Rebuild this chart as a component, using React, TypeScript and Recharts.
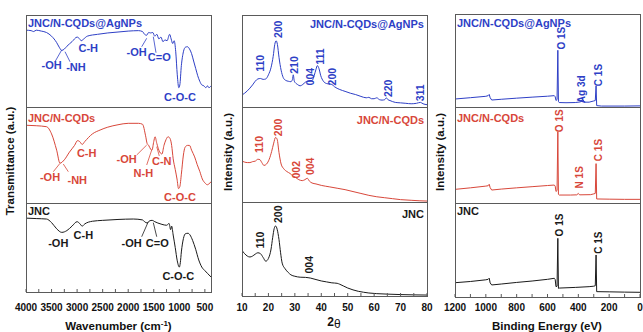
import React from 'react';
import { LineChart, Line, XAxis, YAxis, ReferenceDot, ReferenceLine } from 'recharts';

type P = [number, number];

// ---------- FTIR (wavenumber, transmittance) ----------
const ftirAg: P[] = [[4000,83.5],[3900,83],[3850,82],[3800,83.5],[3700,82.5],[3600,81],[3500,77],[3400,70],[3350,65],[3300,61.5],[3250,63],[3200,66],[3100,71],[3000,76],[2950,74],[2920,72],[2880,73.5],[2800,77],[2600,79],[2400,80.5],[2200,81.5],[2000,82.5],[1800,83],[1720,82],[1680,79],[1640,78],[1600,81],[1560,80.5],[1520,81],[1480,77],[1440,79],[1400,74],[1360,76],[1320,71],[1280,73],[1240,72],[1190,79],[1160,74],[1130,69],[1100,72],[1070,60],[1040,35],[1010,21],[990,24],[960,45],[920,60],[880,65],[840,65.5],[800,63],[760,58],[720,50],[680,42],[640,34],[600,28],[560,24],[520,23],[480,21],[450,23],[420,21],[380,23]];
const ftirCqd: P[] = [[4000,81],[3800,80.5],[3600,79.5],[3500,72],[3400,55],[3335,41.5],[3250,45],[3150,53],[3050,60],[2990,65],[2950,64],[2900,61],[2850,64],[2700,72],[2550,76],[2400,79],[2200,81.5],[2000,83],[1800,83],[1720,82],[1660,70],[1630,62],[1600,60],[1560,56],[1535,55],[1500,64],[1475,69],[1440,62],[1400,55],[1340,51],[1300,60],[1260,66],[1220,69],[1180,67],[1150,60],[1120,46],[1080,35],[1045,25],[1015,15],[990,17],[960,30],[920,50],[888,58],[840,60],[800,60],[760,55],[700,48],[650,40],[600,33],[550,25],[500,21],[450,19],[420,20],[380,22]];
const ftirJnc: P[] = [[4000,83],[3800,82.5],[3600,82],[3500,78],[3400,71],[3300,67],[3200,69],[3100,74],[3000,79],[2950,77],[2900,74],[2850,76.5],[2700,79.5],[2500,80.5],[2200,81.5],[1900,82],[1720,81],[1680,79],[1630,77.5],[1580,80],[1530,80.5],[1480,79],[1420,77.5],[1340,76],[1250,75],[1200,77],[1170,70],[1150,74],[1120,64],[1080,50],[1040,35],[1000,28],[980,33],[960,45],[920,60],[880,65.5],[830,66],[790,64],[740,58],[680,48],[620,36],[560,28],[500,24],[450,21],[400,18],[380,17]];

// ---------- XRD (2theta, intensity) ----------
const xrdAg: P[] = [[10,13],[11,15],[12,17.5],[13,20.5],[14,24],[15,28],[16,30.5],[17,31],[18,30],[19,30.5],[20,35],[21,43],[21.8,55],[22.4,68],[22.9,72],[23.4,68],[24,54],[24.8,40],[25.6,32],[26.5,29],[27.5,28],[28.5,27.5],[29.1,30],[29.4,35],[29.8,28],[31,24.5],[32,23],[33,24.5],[34,27],[34.8,28],[35.7,28],[36.6,29],[37.3,34],[38,41],[38.5,45],[39.1,42],[39.8,34],[40.8,28],[42,25.5],[43,25],[44,24.5],[45,22],[47,19],[49,17],[51,15],[53,13.5],[55,11.5],[57,10],[58,10.5],[59,9],[60,9],[61,10],[62,8],[63,7.5],[64,8],[64.6,10],[65.2,8],[66,7],[68,5],[70,4.5],[72,4],[74,3.5],[76,4],[77.5,5],[78.5,3.5],[80,2.5]];
const xrdCqd: P[] = [[10,43],[11,42],[12,41.5],[13,41.5],[14,42.5],[15,43],[16,45],[16.8,44.5],[17.5,41.5],[18.3,38.5],[19.3,40],[20.3,45],[21.2,53],[22,62],[22.7,68],[23.3,66],[24,52],[24.8,40],[25.8,35],[27,32],[28.2,30],[29.2,27.5],[30.2,26],[31.5,23.5],[32.8,22.5],[33.8,23.5],[34.7,25],[35.5,22],[36.5,20],[38,19],[40,17.5],[43,16],[46,14.5],[49,13],[52,11],[55,9],[58,7],[61,5.5],[64,4.5],[67,3.5],[70,2.5],[74,1.8],[77,1.3],[80,1]];
const xrdJnc: P[] = [[10,48.5],[11,45],[12,42.5],[13,41.5],[14,42.5],[15,44.5],[16,46],[17,45],[18,41],[19,37],[20,40],[21,50],[21.6,62],[22.2,72],[22.7,74.5],[23.3,71],[24,60],[24.6,46],[25.2,35],[26.3,29],[27.5,25],[28.5,22.5],[30,21],[32,20],[34,19.8],[36,19],[38,17.5],[40,16],[42,15],[44,14],[46,13.5],[47,12.5],[48.5,10.5],[50,8.5],[52,6.5],[54,5],[56,4],[58,3.2],[61,2.5],[65,2],[70,1.5],[75,1.2],[80,1]];

// ---------- XPS (binding energy, intensity) ----------
const xpsAg: P[] = [[1200,8.6],[1100,10],[1000,11.5],[985,12.2],[978,13.5],[972,10],[962,7.5],[900,8.3],[800,9.5],[700,10.6],[600,11.6],[556,12.2],[550,11],[545,7],[538,8],[533,61],[529,6],[524,4.8],[480,4.6],[420,4.8],[385,5.5],[375,8],[368,7.5],[360,5.2],[330,5.2],[300,6.5],[290,7],[285,22.6],[281,1.5],[250,1],[100,1],[0,1.2]];
const xpsCqd: P[] = [[1200,14.2],[1100,15.8],[1000,17.6],[985,18],[978,19.5],[972,16],[962,13.5],[900,14.5],[800,15.8],[700,17],[600,18.2],[556,18.7],[550,17.5],[545,12],[538,13],[533,74],[529,9],[524,8.3],[450,8.3],[410,8.5],[400,10],[392,8.5],[320,8.7],[300,9.5],[290,10],[285,41],[281,4.2],[200,4],[100,3.8],[0,3.8]];
const xpsJnc: P[] = [[1200,15.2],[1100,16.5],[1000,18.3],[985,18.8],[978,20],[972,15],[962,12.8],[900,13.8],[800,15.5],[700,17],[600,18.8],[556,19.9],[550,18.5],[545,11],[538,11.5],[533,62.4],[529,9.2],[524,9.5],[420,10.2],[330,11],[300,11.5],[290,12],[285,44.7],[281,5.7],[200,5.5],[100,5.2],[0,5]];

// ---------- ticks ----------
const ftirTicks = [500,750,1000,1250,1500,1750,2000,2250,2500,2750,3000,3250,3500,3750,4000];
const xrdTicks = [10,15,20,25,30,35,40,45,50,55,60,65,70,75,80];
const xpsTicks = [0,100,200,300,400,500,600,700,800,900,1000,1100,1200];

// ---------- annotations ----------
interface Ann { t: string; x: number; y: number; }
type Seg = [P, P];

const ftirAgAnn: Ann[] = [{t:'-OH',x:3497,y:45.7},{t:'-NH',x:3022,y:43.8},{t:'C-H',x:2781,y:63.8},{t:'-OH',x:1834,y:60.1},{t:'C=O',x:1392,y:54},{t:'C-O-C',x:987,y:11.2}];
const ftirAgSeg: Seg[] = [[[3301,62],[3433,49.2]],[[3237,60.1],[3139,49.2]],[[1638,74.7],[1736,65.5]],[[1509,76.4],[1456,59]]];
const ftirCqdAnn: Ann[] = [{t:'-OH',x:3530,y:26.7},{t:'-NH',x:2996,y:24},{t:'C-H',x:2813,y:52.4},{t:'-OH',x:2030,y:45.5},{t:'N-H',x:1704,y:30.9},{t:'C-N',x:1344,y:43.7},{t:'C-O-C',x:987,y:6.6}];
const ftirCqdSeg: Seg[] = [[[3335,41.3],[3466,32.6]],[[3270,40.6],[3172,32.6]],[[1638,60.4],[1834,50]],[[1540,55.2],[1638,39.6]],[[1442,58.6],[1392,49]]];
const ftirJncAnn: Ann[] = [{t:'-OH',x:3368,y:54.7},{t:'C-H',x:2878,y:64},{t:'-OH',x:1932,y:55.4},{t:'C=O',x:1430,y:54.7},{t:'C-O-C',x:1020,y:18}];
const ftirJncSeg: Seg[] = [[[1607,79],[1736,62.1]],[[1509,77.9],[1442,62.1]]];

const xrdAgAnn: Ann[] = [{t:'110',x:16.8,y:47.5},{t:'200',x:23.7,y:84.4},{t:'210',x:29.7,y:45.7},{t:'004',x:35.7,y:33},{t:'111',x:39.5,y:54.7},{t:'200',x:44.3,y:33},{t:'220',x:65.5,y:20.3},{t:'311',x:77.6,y:15.5}];
const xrdCqdAnn: Ann[] = [{t:'110',x:16.5,y:60.6},{t:'200',x:23.7,y:78.4},{t:'002',x:30.4,y:34},{t:'004',x:35.7,y:37.6}];
const xrdJncAnn: Ann[] = [{t:'110',x:16.8,y:59.5},{t:'200',x:23.7,y:87},{t:'004',x:35.5,y:33.3}];

const xpsAgAnn: Ann[] = [{t:'O 1S',x:512,y:74},{t:'Ag 3d',x:378,y:19},{t:'C 1S',x:270,y:34.4}];
const xpsCqdAnn: Ann[] = [{t:'O 1S',x:523,y:85.7},{t:'N 1S',x:394,y:26.8},{t:'C 1S',x:270,y:55.2}];
const xpsJncAnn: Ann[] = [{t:'O 1S',x:523,y:76.6},{t:'C 1S',x:270,y:57.8}];

const BLUE = '#2e3fc6';
const RED = '#d8473a';
const BLACK = '#1a1a1a';
const FRAME = '#5a5a5a';
const FONT = 'Arial, "Liberation Sans", Helvetica, sans-serif';
const PAD = 16;

interface SubProps {
  left: number; top: number; width: number; height: number;
  data: P[]; domain: [number, number]; reversed?: boolean; color: string;
  ticks: number[]; major: (v: number) => boolean; showLabels?: boolean; tickMargin?: number;
  anns: Ann[]; segs?: Seg[]; annSize: number; rot?: boolean; curve: 'monotone' | 'linear';
}

function Sub(p: SubProps) {
  const rows = p.data.map(([x, y]) => ({ x, y }));
  const axisH = 24;
  const total = p.height + (p.showLabels ? axisH : 0);
  return (
    <div style={{ position: 'absolute', left: p.left - PAD, top: p.top, width: p.width + 2 * PAD, height: total }}>
      <LineChart width={p.width + 2 * PAD} height={total} data={rows} margin={{ top: 0, right: PAD, bottom: 0, left: PAD }}>
        <XAxis dataKey="x" type="number" domain={p.domain} reversed={p.reversed} ticks={p.ticks} interval={0}
          allowDataOverflow height={p.showLabels ? axisH : 0} axisLine={false}
          tickLine={{ stroke: FRAME }} tickSize={-3} tickMargin={p.tickMargin ?? 0}
          tickFormatter={(v: number) => (p.showLabels && p.major(v) ? String(v) : '')}
          tick={{ fontSize: 10, fontWeight: 700, fill: '#111', fontFamily: FONT }} />
        <YAxis hide width={0} type="number" domain={[0, 100]} allowDataOverflow />
        <Line dataKey="y" type={p.curve} stroke={p.color} strokeWidth={1} dot={false} isAnimationActive={false} />
        {(p.segs || []).map((s, i) => (
          <ReferenceLine key={'s' + i} segment={[{ x: s[0][0], y: s[0][1] }, { x: s[1][0], y: s[1][1] }]}
            stroke={p.color} strokeWidth={0.8} ifOverflow="visible" />
        ))}
        {p.anns.map((a, i) => (
          <ReferenceDot key={'a' + i} x={a.x} y={a.y} r={0} fill="none" stroke="none" ifOverflow="visible"
            label={{ value: a.t, position: 'center', angle: p.rot ? -90 : 0, fill: p.color, fontSize: p.annSize, fontWeight: 700, fontFamily: FONT }} />
        ))}
      </LineChart>
    </div>
  );
}

const isFtirMajor = (v: number) => v % 500 === 0;
const isXrdMajor = (v: number) => v % 10 === 0;
const isXpsMajor = (v: number) => v % 200 === 0;

// panel geometry
const P1 = { x: 26, w: 185, rows: [[15, 92], [107, 96], [203, 89]] };
const P2 = { x: 242, w: 185, rows: [[15, 92], [107, 95], [202, 94]] };
const P3 = { x: 455, w: 185, rows: [[14, 93], [107, 96], [203, 94]] };

export default function App() {
  const boxes = [P1, P2, P3].flatMap((pn) => pn.rows.map(([t, h]) => ({ x: pn.x, y: t, w: pn.w, h })));
  const lbl = { fontFamily: FONT, fontWeight: 700 } as const;
  return (
    <div style={{ position: 'absolute', left: 0, top: 0, width: 643, height: 332, background: '#fff', overflow: 'hidden' }}>
      {/* FTIR */}
      <Sub left={P1.x} top={15} width={185} height={92} data={ftirAg} domain={[380, 4000]} reversed color={BLUE}
        ticks={ftirTicks} major={isFtirMajor} anns={ftirAgAnn} segs={ftirAgSeg} annSize={11} curve="monotone" />
      <Sub left={P1.x} top={107} width={185} height={96} data={ftirCqd} domain={[380, 4000]} reversed color={RED}
        ticks={ftirTicks} major={isFtirMajor} anns={ftirCqdAnn} segs={ftirCqdSeg} annSize={11} curve="monotone" />
      <Sub left={P1.x} top={203} width={185} height={89} data={ftirJnc} domain={[380, 4000]} reversed color={BLACK}
        ticks={ftirTicks} major={isFtirMajor} showLabels tickMargin={14.5} anns={ftirJncAnn} segs={ftirJncSeg} annSize={11} curve="monotone" />
      {/* XRD */}
      <Sub left={P2.x} top={15} width={185} height={92} data={xrdAg} domain={[10, 80]} color={BLUE}
        ticks={xrdTicks} major={isXrdMajor} anns={xrdAgAnn} annSize={10.5} rot curve="monotone" />
      <Sub left={P2.x} top={107} width={185} height={95} data={xrdCqd} domain={[10, 80]} color={RED}
        ticks={xrdTicks} major={isXrdMajor} anns={xrdCqdAnn} annSize={10.5} rot curve="monotone" />
      <Sub left={P2.x} top={202} width={185} height={94} data={xrdJnc} domain={[10, 80]} color={BLACK}
        ticks={xrdTicks} major={isXrdMajor} showLabels tickMargin={10.5} anns={xrdJncAnn} annSize={10.5} rot curve="monotone" />
      {/* XPS */}
      <Sub left={P3.x} top={14} width={185} height={93} data={xpsAg} domain={[0, 1200]} reversed color={BLUE}
        ticks={xpsTicks} major={isXpsMajor} anns={xpsAgAnn} annSize={10} rot curve="linear" />
      <Sub left={P3.x} top={107} width={185} height={96} data={xpsCqd} domain={[0, 1200]} reversed color={RED}
        ticks={xpsTicks} major={isXpsMajor} anns={xpsCqdAnn} annSize={10} rot curve="linear" />
      <Sub left={P3.x} top={203} width={185} height={94} data={xpsJnc} domain={[0, 1200]} reversed color={BLACK}
        ticks={xpsTicks} major={isXpsMajor} showLabels tickMargin={9.5} anns={xpsJncAnn} annSize={10} rot curve="linear" />

      <svg width={643} height={332} style={{ position: 'absolute', left: 0, top: 0, pointerEvents: 'none' }}>
        {boxes.map((b, i) => (
          <rect key={i} x={b.x + 0.5} y={b.y + 0.5} width={b.w} height={b.h} fill="none" stroke={FRAME} strokeWidth={1} />
        ))}
        {/* sample labels */}
        <text x={28} y={26.5} fill={BLUE} fontSize={11} {...lbl}>JNC/N-CQDs@AgNPs</text>
        <text x={28} y={121.5} fill={RED} fontSize={11} {...lbl}>JNC/N-CQDs</text>
        <text x={28} y={215} fill={BLACK} fontSize={11} {...lbl}>JNC</text>
        <text x={424} y={28} fill={BLUE} fontSize={11} textAnchor="end" {...lbl}>JNC/N-CQDs@AgNPs</text>
        <text x={424} y={124} fill={RED} fontSize={11} textAnchor="end" {...lbl}>JNC/N-CQDs</text>
        <text x={424} y={218} fill={BLACK} fontSize={11} textAnchor="end" {...lbl}>JNC</text>
        <text x={457} y={26.5} fill={BLUE} fontSize={11} {...lbl}>JNC/N-CQDs@AgNPs</text>
        <text x={457} y={121.5} fill={RED} fontSize={11} {...lbl}>JNC/N-CQDs</text>
        <text x={457} y={215} fill={BLACK} fontSize={11} {...lbl}>JNC</text>
        {/* axis titles */}
        <text x={14} y={161} transform="rotate(-90 14 161)" textAnchor="middle" fontSize={11.5} fill="#111" {...lbl}>Transmittance (a.u.)</text>
        <text x={232} y={152} transform="rotate(-90 232 152)" textAnchor="middle" fontSize={11.5} fill="#111" {...lbl}>Intensity (a.u.)</text>
        <text x={444} y={152} transform="rotate(-90 444 152)" textAnchor="middle" fontSize={11.5} fill="#111" {...lbl}>Intensity (a.u.)</text>
        <text x={118.5} y={330} textAnchor="middle" fontSize={11.5} fill="#111" {...lbl}>
          Wavenumber (cm<tspan dy={-4} fontSize={8}>-1</tspan><tspan dy={4}>)</tspan>
        </text>
        <text x={334} y={326} textAnchor="middle" fontSize={12} fill="#111" {...lbl}>2<tspan dy={1.5} fontWeight={400}>θ</tspan></text>
        <text x={547} y={330} textAnchor="middle" fontSize={11.5} fill="#111" {...lbl}>Binding Energy (eV)</text>
      </svg>
    </div>
  );
}
